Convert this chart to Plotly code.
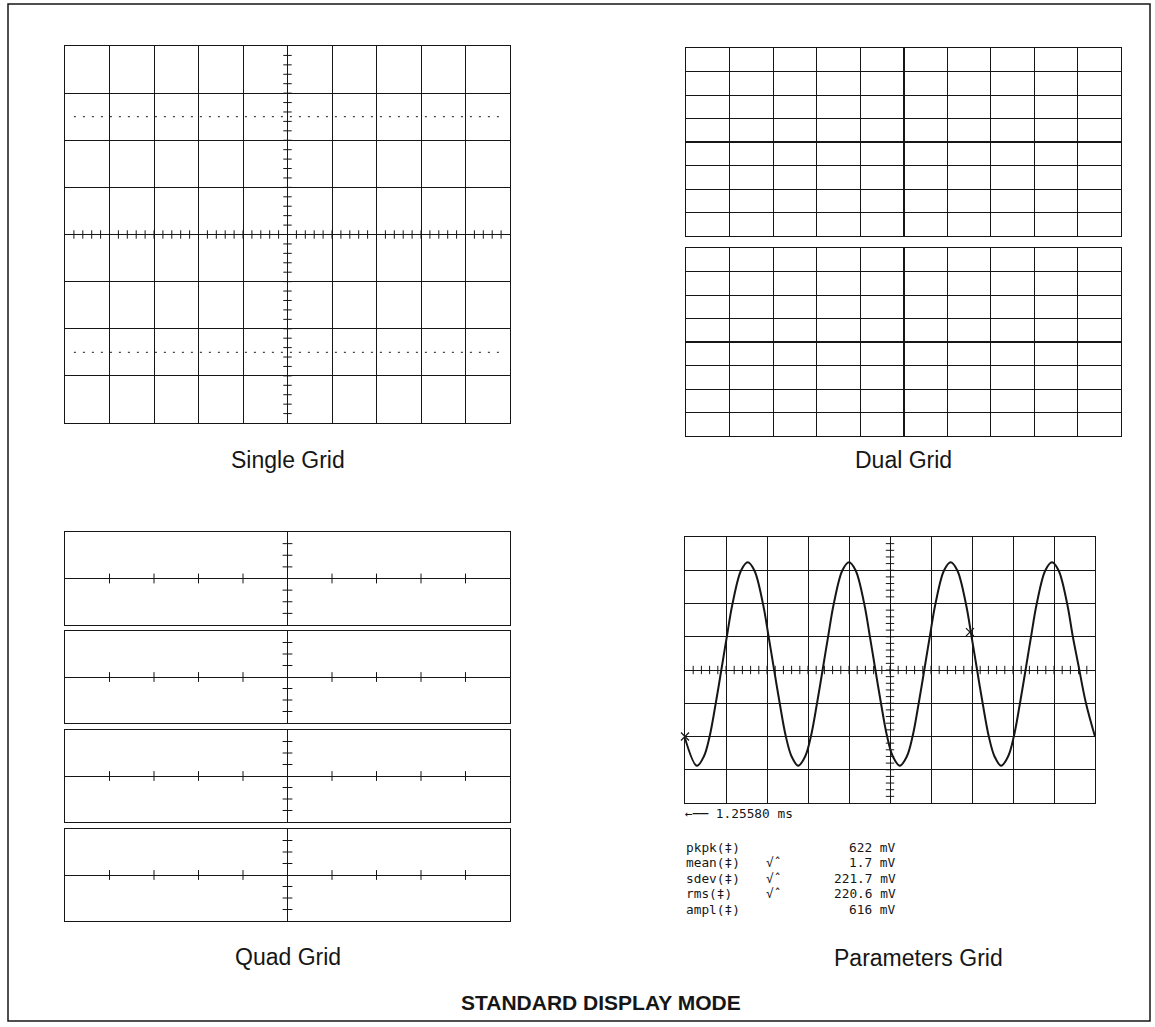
import numpy as np
import plotly.graph_objects as go

W, H = 1155, 1027

# ---------------- data ----------------
# sine trace on the Parameters grid (divisions: x 0..10, y -4..4)
SINE_X = [0.00, 0.29, 0.46, 0.60, 0.75, 0.91, 1.02, 1.16, 1.37, 1.53, 1.69, 1.90, 2.04,
          2.15, 2.31, 2.46, 2.60, 2.76, 2.93, 3.07, 3.22, 3.38, 3.49, 3.63, 3.84, 4.00,
          4.16, 4.37, 4.51, 4.62, 4.78, 4.93, 5.07, 5.24, 5.41, 5.55, 5.70, 5.86, 5.97,
          6.11, 6.32, 6.48, 6.64, 6.85, 6.99, 7.10, 7.26, 7.41, 7.55, 7.71, 7.88, 8.02,
          8.17, 8.33, 8.44, 8.58, 8.79, 8.95, 9.11, 9.32, 9.46, 9.59, 9.78, 10.00]
SINE_Y = [-2.05, -2.88, -2.60, -2.00, -1.00, 0.18, 1.00, 2.00, 3.00, 3.24, 3.00, 2.00, 1.00,
          0.18, -1.00, -2.00, -2.60, -2.88, -2.60, -2.00, -1.00, 0.18, 1.00, 2.00, 3.00, 3.24,
          3.00, 2.00, 1.00, 0.18, -1.00, -2.00, -2.60, -2.88, -2.60, -2.00, -1.00, 0.18, 1.00,
          2.00, 3.00, 3.24, 3.00, 2.00, 1.00, 0.18, -1.00, -2.00, -2.60, -2.88, -2.60, -2.00,
          -1.00, 0.18, 1.00, 2.00, 3.00, 3.24, 3.00, 2.00, 1.00, 0.18, -1.00, -2.00]
CURSOR_X = [0.0, 6.95]
CURSOR_Y = [-2.0, 1.14]

PARAM_NAMES = ["pkpk(‡)", "mean(‡)", "sdev(‡)", "rms(‡)", "ampl(‡)"]
PARAM_FLAGS = ["", "√ˆ", "√ˆ", "√ˆ", ""]
PARAM_VALUES = ["622 mV", "1.7 mV", "221.7 mV", "220.6 mV", "616 mV"]
TIMEBASE = "←── 1.25580 ms"

PANEL_TITLES = ["Single Grid", "Dual Grid", "Quad Grid", "Parameters Grid"]
MODE_TITLE = "STANDARD DISPLAY MODE"

INK = "#161616"


def px_x(x):
    return x / W


def px_y(y):
    return 1 - y / H


def dom(x0, x1, y0, y1):
    return [px_x(x0), px_x(x1)], [px_y(y1), px_y(y0)]


base = dict(showticklabels=False, ticks="", showline=True, mirror=True,
            linecolor=INK, linewidth=1, zeroline=False, fixedrange=True)
grid = dict(showgrid=True, gridcolor=INK, gridwidth=1, dtick=1, tick0=0)
nogrid = dict(showgrid=False)

fig = go.Figure()
layout = dict(width=W, height=H, margin=dict(l=0, r=0, t=0, b=0),
              paper_bgcolor="white", plot_bgcolor="white", showlegend=False)

# panel boxes in reference pixels: (x0, x1, y0, y1)
panels = {
    1: (65, 510, 46, 423),      # single
    2: (686, 1121, 48, 236),    # dual top
    3: (686, 1121, 248, 436),   # dual bottom
    4: (65, 510, 532, 625),     # quad 1
    5: (65, 510, 631, 723),     # quad 2
    6: (65, 510, 730, 822),     # quad 3
    7: (65, 510, 829, 921),     # quad 4
    8: (685, 1095, 537, 803),   # parameters
}


def ax(i):
    return ("x", "y") if i == 1 else (f"x{i}", f"y{i}")


for i, (x0, x1, y0, y1) in panels.items():
    xd, yd = dom(x0, x1, y0, y1)
    xa = dict(base, domain=xd, anchor=f"y{i}" if i > 1 else "y")
    ya = dict(base, domain=yd, anchor=f"x{i}" if i > 1 else "x")
    if i in (1, 8):
        xa.update(grid, range=[0, 10])
        ya.update(grid, range=[-4, 4])
    elif i in (2, 3):
        xa.update(grid, range=[-5, 5], zeroline=True, zerolinecolor=INK, zerolinewidth=1.6)
        ya.update(grid, range=[-4, 4], zeroline=True, zerolinecolor=INK, zerolinewidth=1.6)
    else:
        xa.update(nogrid, range=[-5, 5], zeroline=True, zerolinecolor=INK, zerolinewidth=1)
        ya.update(nogrid, range=[-4, 4], zeroline=True, zerolinecolor=INK, zerolinewidth=1)
    layout[f"xaxis{i}" if i > 1 else "xaxis"] = xa
    layout[f"yaxis{i}" if i > 1 else "yaxis"] = ya
    # an empty trace so every subplot is rendered
    xr, yr = ax(i)
    fig.add_trace(go.Scatter(x=[None], y=[None], xaxis=xr, yaxis=yr, mode="markers",
                             hoverinfo="skip"))


def tick_marks(i, xs, ys, symbol, size):
    xr, yr = ax(i)
    fig.add_trace(go.Scatter(x=xs, y=ys, mode="markers", xaxis=xr, yaxis=yr,
                             hoverinfo="skip", cliponaxis=False,
                             marker=dict(symbol=symbol, size=size, color=INK,
                                         line=dict(width=1, color=INK))))


# crosshair minor ticks (0.2 division) on Single and Parameters grids
fine = np.round(np.arange(0.2, 10, 0.2), 2)
fine_y = np.round(np.arange(-3.8, 4, 0.2), 2)
for i in (1, 8):
    tick_marks(i, fine, np.zeros_like(fine), "line-ns", 6)
    tick_marks(i, np.full_like(fine_y, 5.0), fine_y, "line-ew", 6)

# dotted lines on the single grid
for yv in (2.5, -2.5):
    fig.add_trace(go.Scatter(x=[0.2, 9.8], y=[yv, yv], mode="lines", xaxis="x", yaxis="y",
                             hoverinfo="skip",
                             line=dict(color=INK, width=1, dash="2px,7px")))

# quad grid ticks
qx = [v for v in range(-4, 5) if v != 0]
qy = [-3, -2, -1, 1, 2, 3]
for i in (4, 5, 6, 7):
    tick_marks(i, qx, [0] * len(qx), "line-ns", 7)
    tick_marks(i, [0] * len(qy), qy, "line-ew", 7)

# sine trace
fig.add_trace(go.Scatter(x=SINE_X, y=SINE_Y, mode="lines", xaxis="x8", yaxis="y8",
                         hoverinfo="skip", cliponaxis=False,
                         line=dict(color=INK, width=2, shape="spline", smoothing=1.0)))
fig.add_trace(go.Scatter(x=CURSOR_X, y=CURSOR_Y, mode="markers", xaxis="x8", yaxis="y8",
                         hoverinfo="skip", cliponaxis=False,
                         marker=dict(symbol="x-thin", size=8, color=INK,
                                     line=dict(width=1.2, color=INK))))

annotations = []
title_font = dict(family="Liberation Sans, Arial, sans-serif", size=23, color=INK)
title_pos = [(288, 460), (903, 460), (288, 957), (918, 958)]
for txt, (x, y) in zip(PANEL_TITLES, title_pos):
    annotations.append(dict(text=txt, x=px_x(x), y=px_y(y), xref="paper", yref="paper",
                            xanchor="center", yanchor="middle", showarrow=False,
                            font=title_font))
annotations.append(dict(text=f"<b>{MODE_TITLE}</b>", x=px_x(601), y=px_y(1002),
                        xref="paper", yref="paper", xanchor="center", yanchor="middle",
                        showarrow=False,
                        font=dict(family="Liberation Sans, Arial, sans-serif", size=21,
                                  color=INK)))

mono = dict(family="DejaVu Sans Mono, Liberation Mono, monospace", size=12.8, color=INK)
annotations.append(dict(text=TIMEBASE, x=px_x(683), y=px_y(813), xref="paper", yref="paper",
                        xanchor="left", yanchor="middle", showarrow=False, font=mono))
row_y = [847.5, 862.5, 878, 893.5, 909]
for name, flag, val, y in zip(PARAM_NAMES, PARAM_FLAGS, PARAM_VALUES, row_y):
    annotations.append(dict(text=name, x=px_x(684), y=px_y(y), xref="paper", yref="paper",
                            xanchor="left", yanchor="middle", showarrow=False, font=mono))
    if flag:
        annotations.append(dict(text=flag, x=px_x(764), y=px_y(y), xref="paper",
                                yref="paper", xanchor="left", yanchor="middle",
                                showarrow=False, font=mono))
    annotations.append(dict(text=val, x=px_x(898), y=px_y(y), xref="paper", yref="paper",
                            xanchor="right", yanchor="middle", showarrow=False, font=mono))

layout["annotations"] = annotations
layout["shapes"] = [dict(type="rect", xref="paper", yref="paper",
                         x0=px_x(8), x1=px_x(1150), y0=px_y(1021), y1=px_y(4),
                         line=dict(color=INK, width=1.5), fillcolor="rgba(0,0,0,0)")]

fig.update_layout(**layout)
# remove the browser's default 8px body margin so the figure fills the window
fig.write_html("out.html", config={"displayModeBar": False},
               post_script="document.body.style.margin='0px';document.body.style.overflow='hidden';")
